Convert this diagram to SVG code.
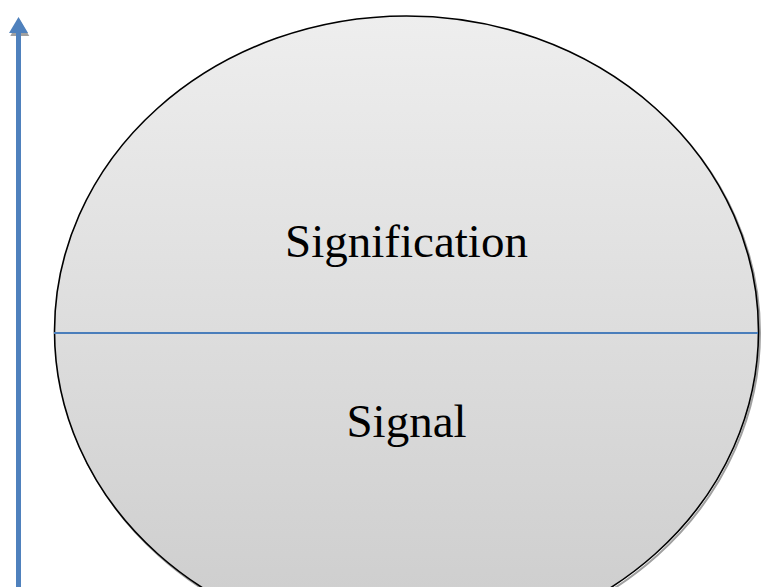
<svg xmlns="http://www.w3.org/2000/svg" width="779" height="587" viewBox="0 0 779 587">
  <defs>
    <linearGradient id="g" x1="0" y1="0" x2="0" y2="1">
      <stop offset="0" stop-color="#eeeeee"/>
      <stop offset="1" stop-color="#cccccc"/>
    </linearGradient>
    <style>
      .lbl { font-family: "Liberation Serif", "Times New Roman", serif; font-size: 47px; fill: #000; text-anchor: middle; }
    </style>
  </defs>
  <rect width="779" height="587" fill="#ffffff"/>
  <g id="circle">
    <ellipse cx="408" cy="333" rx="352" ry="315" fill="none" stroke="#a0a0a0" stroke-width="2"/>
    <ellipse cx="406.5" cy="331" rx="352" ry="315" fill="url(#g)" stroke="#000" stroke-width="1.6"/>
  </g>
  <g id="connectors">
    <line x1="54" y1="333" x2="758" y2="333" stroke="#4a7ebb" stroke-width="2"/>
    <polygon points="18.5,18 28.5,35 9.5,35" fill="#a0a0a0" transform="translate(0.8,1)"/>
    <line x1="18.5" y1="30" x2="18.5" y2="590" stroke="#4f81bd" stroke-width="5"/>
    <polygon points="18.5,17 28,33 9,33" fill="#4f81bd"/>
  </g>
  <g id="signification">
    <text class="lbl" x="406.5" y="257">Signification</text>
  </g>
  <g id="signal">
    <text class="lbl" x="406.5" y="437">Signal</text>
  </g>
</svg>
